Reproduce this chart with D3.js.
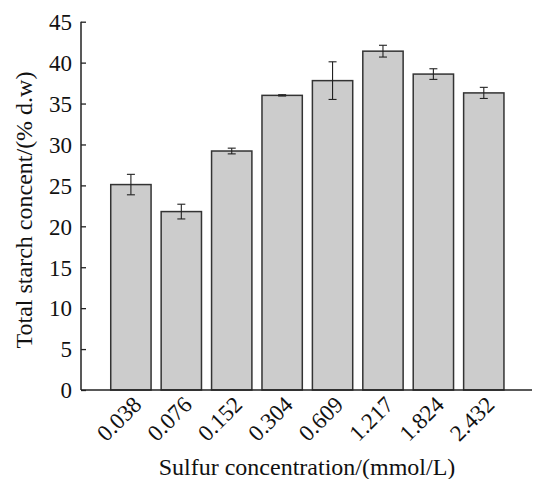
<!DOCTYPE html>
<html>
<head>
<meta charset="utf-8">
<script src="https://cdn.jsdelivr.net/npm/d3@7"></script>
<style>
  html, body { margin: 0; padding: 0; background: #fff; }
  svg text { font-family: "Liberation Serif", "Times New Roman", serif; fill: #111; }
</style>
</head>
<body>
<svg id="chart" width="535" height="479"></svg>
<script>
// Sulfur concentration levels (mmol/L)
const categories = ["0.038", "0.076", "0.152", "0.304", "0.609", "1.217", "1.824", "2.432"];
// Mean total starch content (% d.w)
const starch = [25.1, 21.8, 29.2, 36.0, 37.8, 41.4, 38.6, 36.3];
// Standard deviation for each mean
const starchErr = [1.25, 0.9, 0.35, 0.08, 2.3, 0.72, 0.65, 0.68];
// Y-axis ticks
const yTicks = [0, 5, 10, 15, 20, 25, 30, 35, 40, 45];

const svg = d3.select("#chart");

const axisX0 = 81, axisX1 = 532;
const y = d3.scaleLinear().domain([0, 45]).range([390, 21.7]);
const x = d3.scaleBand()
  .domain(categories)
  .range([105.7, 509])
  .paddingInner(0.2)
  .paddingOuter(0.1);

const data = categories.map((c, i) => ({ c, v: starch[i], e: starchErr[i] }));

// Bars
svg.append("g").selectAll("rect")
  .data(data)
  .join("rect")
  .attr("x", d => x(d.c))
  .attr("y", d => y(d.v))
  .attr("width", x.bandwidth())
  .attr("height", d => y(0) - y(d.v))
  .attr("fill", "#cccccc")
  .attr("stroke", "#333")
  .attr("stroke-width", 1.5);

// Error bars
const eb = svg.append("g").attr("stroke", "#222").attr("stroke-width", 1.1);
const cap = 4;
data.forEach(d => {
  const cx = x(d.c) + x.bandwidth() / 2;
  eb.append("line").attr("x1", cx).attr("x2", cx).attr("y1", y(d.v + d.e)).attr("y2", y(d.v - d.e));
  eb.append("line").attr("x1", cx - cap).attr("x2", cx + cap).attr("y1", y(d.v + d.e)).attr("y2", y(d.v + d.e));
  eb.append("line").attr("x1", cx - cap).attr("x2", cx + cap).attr("y1", y(d.v - d.e)).attr("y2", y(d.v - d.e));
});

// Y axis with inward ticks
const yAxis = d3.axisRight(y).tickValues(yTicks).tickSize(5).tickFormat(d3.format("d"));
const yg = svg.append("g").attr("transform", `translate(${axisX0},0)`).call(yAxis);
yg.select(".domain").remove();
yg.selectAll(".tick line").attr("stroke", "#222").attr("stroke-width", 1.3);
yg.selectAll(".tick text")
  .attr("x", -9)
  .attr("text-anchor", "end")
  .attr("dy", "0.34em")
  .style("font-size", "23px");
yg.append("line")
  .attr("x1", 0).attr("x2", 0)
  .attr("y1", y(45)).attr("y2", y(0))
  .attr("stroke", "#222").attr("stroke-width", 1.5);

// X axis line and rotated category labels
const xAxis = d3.axisBottom(x).tickSize(0);
const xg = svg.append("g").attr("transform", `translate(0,${y(0)})`).call(xAxis);
xg.select(".domain").remove();
xg.selectAll(".tick text")
  .attr("text-anchor", "end")
  .attr("y", 0).attr("dy", 0)
  .attr("transform", "translate(12,16) rotate(-45)")
  .style("font-size", "23px");
svg.append("line")
  .attr("x1", axisX0).attr("x2", axisX1)
  .attr("y1", y(0)).attr("y2", y(0))
  .attr("stroke", "#222").attr("stroke-width", 1.5);

// Axis titles
svg.append("text")
  .attr("transform", "translate(32,210) rotate(-90)")
  .attr("text-anchor", "middle")
  .style("font-size", "24px")
  .text("Total starch concent/(% d.w)");

svg.append("text")
  .attr("x", 307).attr("y", 475)
  .attr("text-anchor", "middle")
  .style("font-size", "24px")
  .text("Sulfur concentration/(mmol/L)");
</script>
</body>
</html>
